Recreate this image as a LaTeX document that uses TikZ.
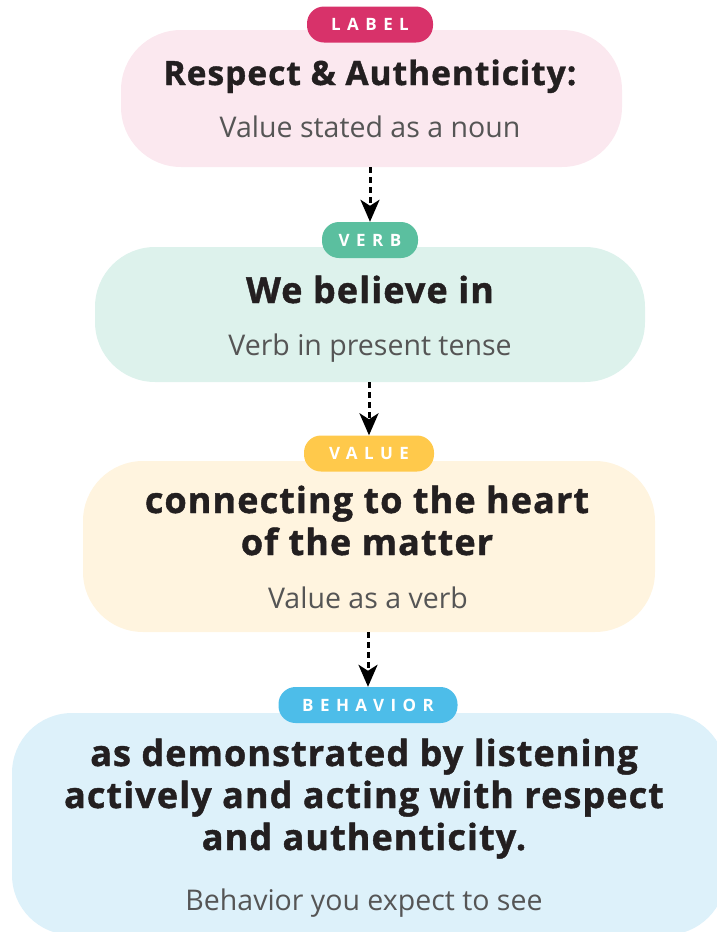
\documentclass[tikz,border=0pt]{standalone}
\usepackage{fontspec}
\setmainfont{Open Sans}
\newfontfamily\tagfont{Open Sans}[LetterSpace=38]
\newfontfamily\headfont{Open Sans}[FakeBold=1.2, LetterSpace=3]
\usetikzlibrary{
    arrows.meta,
    positioning
}

\definecolor{ink}{HTML}{231F20}
\definecolor{subgrey}{HTML}{555555}
\definecolor{labelbg}{HTML}{FBE8EF}
\definecolor{labeltagc}{HTML}{D8326A}
\definecolor{verbbg}{HTML}{DDF2EC}
\definecolor{verbtagc}{HTML}{5BBF9F}
\definecolor{valuebg}{HTML}{FFF4DF}
\definecolor{valuetagc}{HTML}{FFC94B}
\definecolor{behavbg}{HTML}{DDF1FA}
\definecolor{behavtagc}{HTML}{4DBDE9}

\tikzset{
    stagebox/.style={rounded corners=60pt, inner sep=0pt},
    stagetag/.style={rounded corners=17pt, minimum height=36pt, inner sep=0pt,
        text=white, font=\tagfont\bfseries\fontsize{17}{17}\selectfont},
    headline/.style={anchor=base, align=center, inner sep=0pt, text=ink,
        font=\headfont\bfseries\fontsize{36}{42}\selectfont},
    hint/.style={anchor=base, inner sep=0pt, text=subgrey,
        font=\fontsize{28.5}{30}\selectfont},
    link/.style={line width=3pt, dash pattern=on 6pt off 4pt,
        -{Stealth[length=22pt, width=19pt, inset=6pt]}}
}

\begin{document}
\begin{tikzpicture}[x=1pt, y=-1pt]
    \clip (0,0) rectangle (717,932);

    \node[stagebox, fill=labelbg, minimum width=501pt, minimum height=137pt] (labelbox) at (371.5,98.5) {};
    \node[stagebox, fill=verbbg,  minimum width=550pt, minimum height=135pt] (verbbox)  at (370,314.5) {};
    \node[stagebox, fill=valuebg, minimum width=572pt, minimum height=171pt] (valuebox) at (369,546.5) {};
    \node[stagebox, fill=behavbg, minimum width=714pt, minimum height=222pt] (behavbox) at (369,824) {};

    \node[stagetag, fill=labeltagc, minimum width=126pt] (labeltag) at (370,24.5) {LABEL};
    \node[stagetag, fill=verbtagc,  minimum width=96pt]  (verbtag)  at (370,240) {VERB};
    \node[stagetag, fill=valuetagc, minimum width=130pt] (valuetag) at (369,453.5) {VALUE};
    \node[stagetag, fill=behavtagc, minimum width=179pt] (behavtag) at (368,705) {BEHAVIOR};

    \node[headline, font=\headfont\bfseries\fontsize{33.5}{40}\selectfont] (labeltitle) at (370,85) {Respect \& Authenticity:};
    \node[hint]     (labelhint)  at (370,137) {Value stated as a noun};
    \node[headline] (verbtitle)  at (370,303) {We believe in};
    \node[hint]     (verbhint)   at (370,355) {Verb in present tense};
    \node[headline] (valuetitle) at (367,555) {connecting to the heart\\of the matter};
    \node[hint]     (valuehint)  at (368,608) {Value as a verb};
    \node[headline] (behavtitle) at (364,850) {as demonstrated by listening\\actively and acting with respect\\and authenticity.};
    \node[hint]     (behavhint)  at (364,910) {Behavior you expect to see};

    \draw[link] (verbtag.north |- labelbox.south) -- (verbtag.north);
    \draw[link] (valuetag.north |- verbbox.south) -- (valuetag.north);
    \draw[link] (behavtag.north |- valuebox.south) -- (behavtag.north);
\end{tikzpicture}
\end{document}
